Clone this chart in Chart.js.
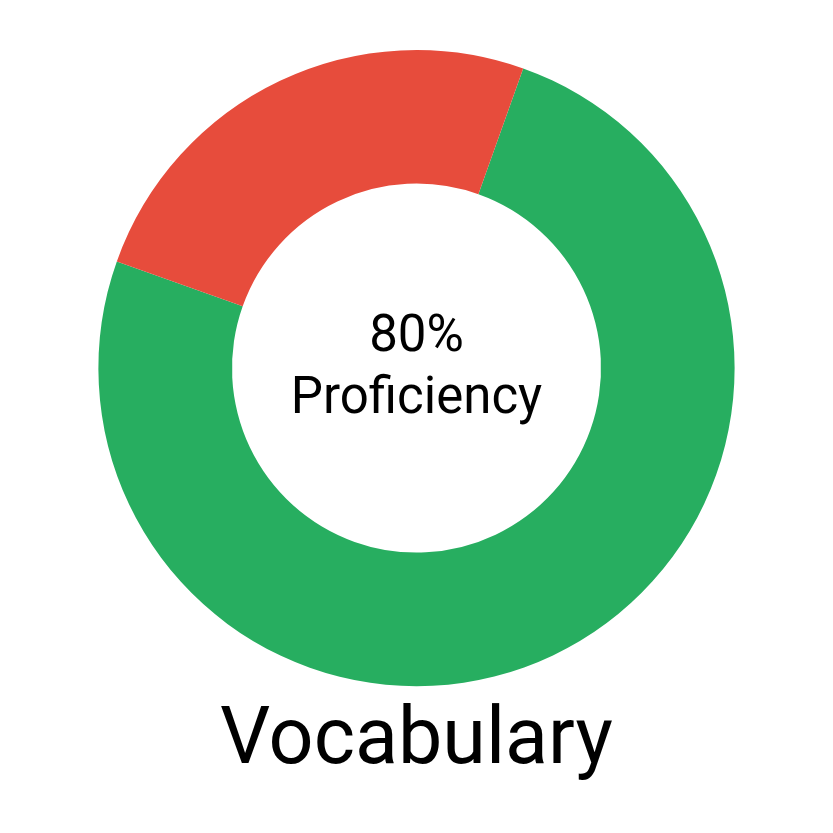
<!DOCTYPE html>
<html>
<head>
<meta charset="utf-8">
<script src="https://cdn.jsdelivr.net/npm/chart.js@4/dist/chart.umd.min.js"></script>
<style>
html,body{margin:0;padding:0;background:#fff;}
#wrap{width:833px;height:833px;}
</style>
</head>
<body>
<div id="wrap"><canvas id="c" width="833" height="833"></canvas></div>
<script>
const categories = ["Proficient", "Remaining"];
const values = [75, 25];
const colors = ["#27ae60", "#e74c3c"];
const titleText = "Vocabulary";
const centerLines = ["80%", "Proficiency"];

const centerText = {
  id: 'centerText',
  afterDraw(chart) {
    const ctx = chart.ctx;
    const meta = chart.getDatasetMeta(0);
    const arc = meta.data[0];
    const x = arc.x, y = arc.y;
    ctx.save();
    ctx.font = '51px Roboto';
    ctx.fillStyle = '#000';
    ctx.textAlign = 'center';
    ctx.textBaseline = 'middle';
    const gap = 62;
    ctx.fillText(centerLines[0], x, y + 1 - gap / 2);
    ctx.fillText(centerLines[1], x, y + 1 + gap / 2);
    ctx.restore();
  }
};

new Chart(document.getElementById('c'), {
  type: 'doughnut',
  data: {
    labels: categories,
    datasets: [{
      data: values,
      backgroundColor: colors,
      borderWidth: 0,
      hoverOffset: 0
    }]
  },
  options: {
    responsive: false,
    animation: false,
    rotation: 19.6,
    cutout: '58%',
    layout: { padding: { top: 50, bottom: 42, left: 0, right: 0 } },
    plugins: {
      legend: { display: false },
      tooltip: { enabled: false },
      title: {
        display: true,
        position: 'bottom',
        text: titleText,
        color: '#000',
        font: { family: 'Roboto', size: 79, weight: 'normal' },
        padding: { top: 10, bottom: 0 }
      }
    }
  },
  plugins: [centerText]
});
</script>
</body>
</html>
